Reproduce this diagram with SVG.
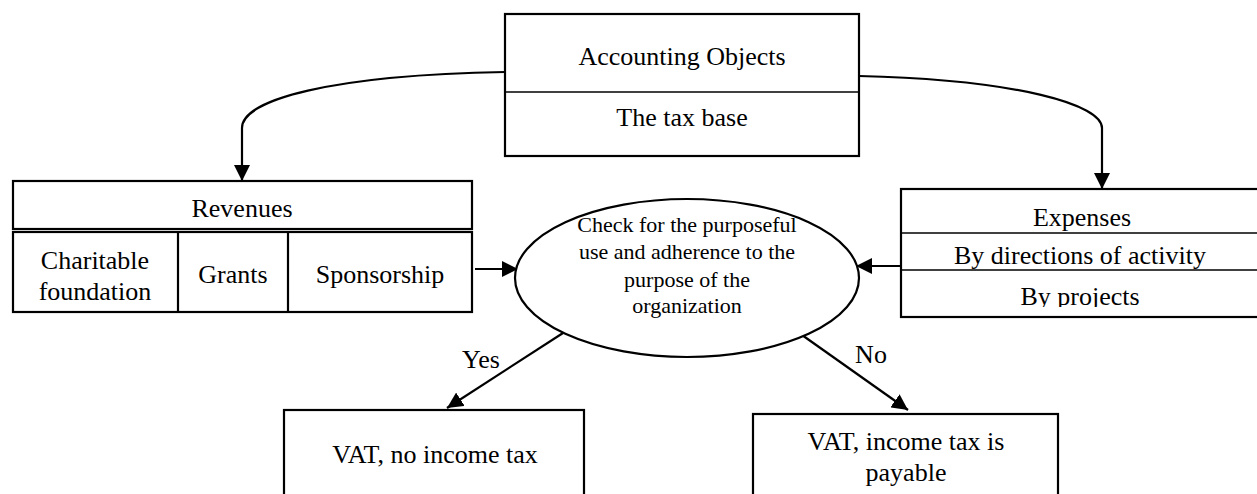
<svg xmlns="http://www.w3.org/2000/svg" width="1257" height="494" viewBox="0 0 1257 494">
<style>
.box{fill:#fff;stroke:#000;stroke-width:2.2}
.div{stroke:#000;stroke-width:1.3}
.t{font-family:"Liberation Serif","Times New Roman",serif;font-size:26px;fill:#000;text-anchor:middle}
.s{font-family:"Liberation Serif","Times New Roman",serif;font-size:22px;fill:#000;text-anchor:middle}
.c{fill:none;stroke:#000;stroke-width:2.2}
</style>
<defs>
<marker id="ah" viewBox="0 0 10 10" refX="10" refY="5" markerWidth="16" markerHeight="16" markerUnits="userSpaceOnUse" orient="auto">
<path d="M0,0 L10,5 L0,10 z" fill="#000"/>
</marker>
<clipPath id="clipExp"><rect x="901" y="189" width="360" height="118"/></clipPath>
<clipPath id="clipNo"><rect x="753" y="414" width="305" height="76"/></clipPath>
</defs>
<rect width="1257" height="494" fill="#fff"/>
<g id="connectors">
<path class="c" d="M505,72 C330,75 242,100 242,128 L242,181" marker-end="url(#ah)"/>
<path class="c" d="M859,76 C1020,80 1102,105 1102,128 L1102,189" marker-end="url(#ah)"/>
<path class="c" d="M475,269 L518,269" marker-end="url(#ah)"/>
<path class="c" d="M901,266 L856,266" marker-end="url(#ah)"/>
<path class="c" d="M563,333 L447,408" marker-end="url(#ah)"/>
<path class="c" d="M802,335 L908,410" marker-end="url(#ah)"/>
<text class="t" x="481" y="368" font-size="25">Yes</text>
<text class="t" x="871" y="363" font-size="25">No</text>
</g>
<g id="accounting-objects">
<rect class="box" x="505" y="14" width="354" height="142"/>
<line class="div" x1="505" y1="92" x2="859" y2="92"/>
<text class="t" x="682" y="65">Accounting Objects</text>
<text class="t" x="682" y="126">The tax base</text>
</g>
<g id="revenues">
<rect class="box" x="13" y="181" width="459" height="48"/>
<text class="t" x="242" y="217">Revenues</text>
<rect class="box" x="13" y="232" width="459" height="80"/>
<line class="box" x1="178" y1="232" x2="178" y2="312"/>
<line class="box" x1="288" y1="232" x2="288" y2="312"/>
<text class="t" x="95" y="269">Charitable</text>
<text class="t" x="95" y="300">foundation</text>
<text class="t" x="233" y="283">Grants</text>
<text class="t" x="380" y="283">Sponsorship</text>
</g>
<g id="check">
<ellipse class="box" cx="687" cy="278" rx="172" ry="79"/>
<text class="s" x="687" y="232">Check for the purposeful</text>
<text class="s" x="687" y="259">use and adherence to the</text>
<text class="s" x="687" y="287">purpose of the</text>
<text class="s" x="687" y="313">organization</text>
</g>
<g id="expenses">
<rect class="box" x="901" y="189" width="370" height="128"/>
<line class="div" x1="901" y1="233" x2="1257" y2="233"/>
<line class="div" x1="901" y1="270" x2="1257" y2="270"/>
<text class="t" x="1082" y="226">Expenses</text>
<text class="t" x="1080" y="264">By directions of activity</text>
<text class="t" x="1080" y="305" clip-path="url(#clipExp)">By projects</text>
</g>
<g id="yes-result">
<rect class="box" x="284" y="410" width="300" height="100"/>
<text class="t" x="435" y="463">VAT, no income tax</text>
</g>
<g id="no-result">
<rect class="box" x="753" y="414" width="305" height="100"/>
<text class="t" x="906" y="450">VAT, income tax is</text>
<text class="t" x="906" y="481" clip-path="url(#clipNo)">payable</text>
</g>
</svg>
